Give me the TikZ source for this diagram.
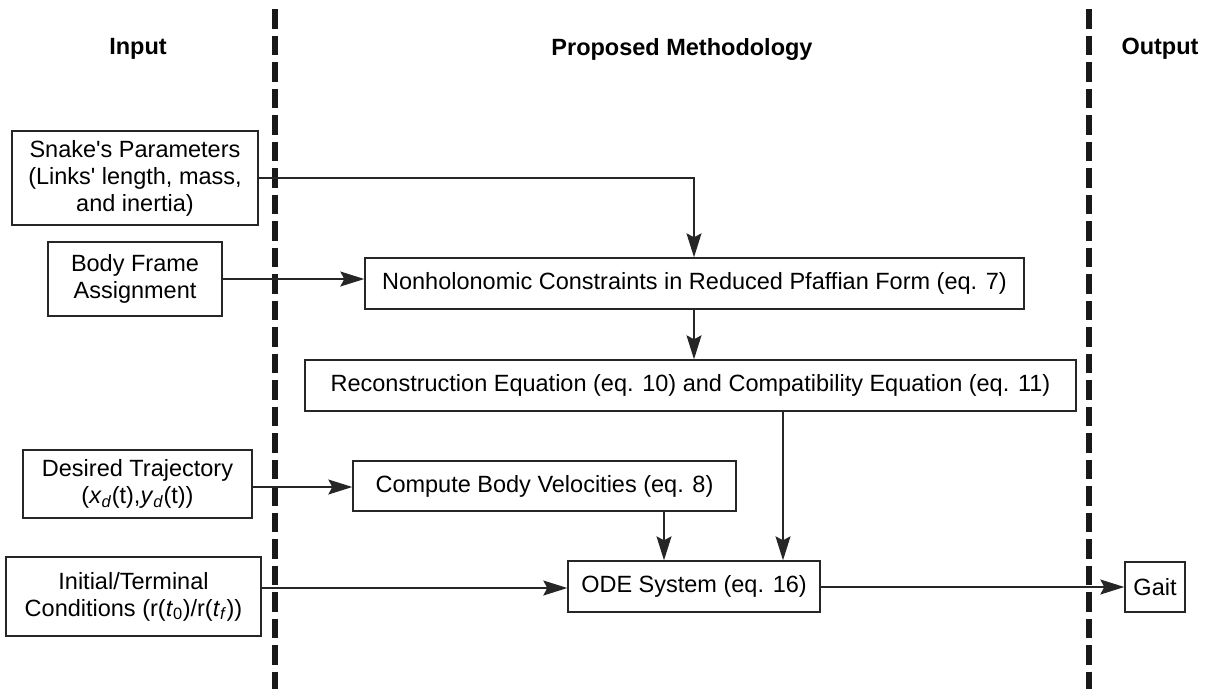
\documentclass[tikz,border=0pt]{standalone}
\usepackage{fontspec}
\setmainfont{Liberation Sans}
\newfontfamily\lsans{Liberation Sans}
\usetikzlibrary{arrows.meta}
\begin{document}
\begin{tikzpicture}[x=1pt,y=-1pt,
  every node/.style={font=\lsans\fontsize{23.5}{27}\selectfont},
  blk/.style={draw=black!85,line width=1.4pt,align=center,inner sep=0pt,anchor=center},
  hdr/.style={font=\lsans\bfseries\fontsize{23.5}{27}\selectfont},
  sep/.style={line width=6.5pt,draw=black!90,dash pattern=on 19.5pt off 7pt},
  arr/.style={line width=1.3pt,draw=black!85,-{Stealth[length=24pt,width=15pt,inset=4pt]}},
  ln/.style={line width=1.3pt,draw=black!85}]
\useasboundingbox (0,0) rectangle (1212,689);
% separators
\coordinate (s1t) at (275,9); \coordinate (s1b) at (275,689);
\coordinate (s2t) at (1089,9); \coordinate (s2b) at (1089,689);
\draw[sep] (s1t) -- (s1b);
\draw[sep] (s2t) -- (s2b);
% headers
\node[hdr] (hin) at (138,49) {Input};
\node[hdr] (hpm) at (682,49) {Proposed Methodology};
\node[hdr] (hout) at (1160,49) {Output};
% boxes
\node[blk,minimum width=246,minimum height=94] (snake) at (135,178) {Snake's Parameters\\(Links' length, mass,\\and inertia)};
\node[blk,minimum width=174,minimum height=74] (body) at (135,279) {Body Frame\\Assignment};
\node[blk,minimum width=659,minimum height=51] (nonh) at (694.5,283.5) {Nonholonomic Constraints in Reduced Pfaffian Form (eq. 7)};
\node[blk,minimum width=771,minimum height=51] (recon) at (690.5,385.5) {Reconstruction Equation (eq. 10) and Compatibility Equation (eq. 11)};
\node[blk,minimum width=229,minimum height=68] (des) at (137.5,484) {Desired Trajectory\\(\textit{x}\textsubscript{\textit{d}}(t),\textit{y}\textsubscript{\textit{d}}(t))};
\node[blk,minimum width=383,minimum height=50] (comp) at (544.5,486) {Compute Body Velocities (eq. 8)};
\node[blk,minimum width=255,minimum height=79] (init) at (133.5,596.5) {Initial/Terminal\\Conditions (r(\textit{t}\textsubscript{0})/r(\textit{t}\textsubscript{\textit{f}}))};
\node[blk,minimum width=252,minimum height=51] (ode) at (694,586.5) {ODE System (eq. 16)};
\node[blk,minimum width=60,minimum height=50] (gait) at (1155,587) {Gait};
% connectors
\coordinate (c1) at (694,178);
\draw[arr] (snake.east |- c1) -- (c1) -- (c1 |- nonh.north);
\draw[arr] (body.east) -- (body.east -| nonh.west);
\coordinate (c2) at (694,309);
\draw[arr] (c2 |- nonh.south) -- (c2 |- recon.north);
\draw[arr] (des.east |- 0,487) -- (comp.west |- 0,487);
\coordinate (c3) at (664,511);
\draw[arr] (c3 |- comp.south) -- (c3 |- ode.north);
\coordinate (c4) at (783,411);
\draw[arr] (c4 |- recon.south) -- (c4 |- ode.north);
\draw[arr] (init.east |- 0,588) -- (ode.west |- 0,588);
\draw[arr] (ode.east |- 0,587) -- (gait.west |- 0,587);
\end{tikzpicture}
\end{document}
